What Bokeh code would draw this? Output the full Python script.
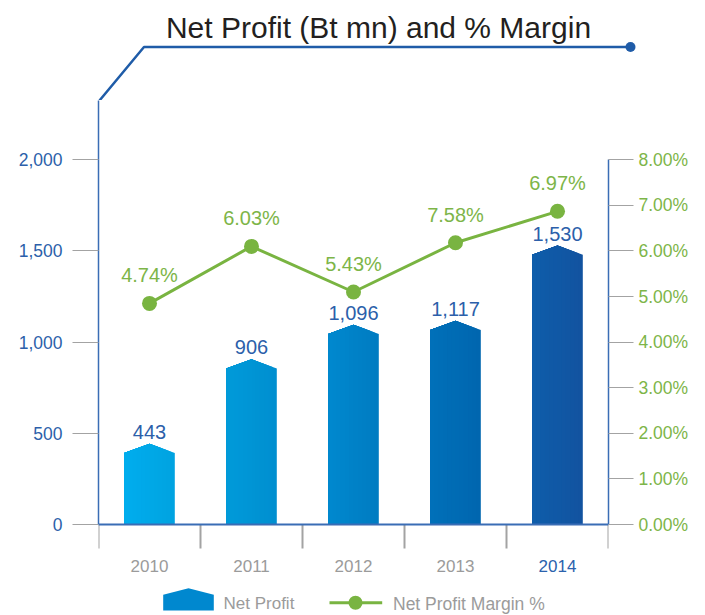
from bokeh.plotting import figure
from bokeh.models import Range1d, LinearAxis, FixedTicker, Span, ColumnDataSource
from bokeh.embed import file_html
from bokeh.resources import INLINE
from bokeh.core.properties import value

# ---------------- data ----------------
title = "Net Profit (Bt mn) and % Margin"
years = ["2010", "2011", "2012", "2013", "2014"]
net_profit = [443, 906, 1096, 1117, 1530]
profit_labels = ["443", "906", "1,096", "1,117", "1,530"]
margin_plotted = [4.85, 6.10, 5.10, 6.18, 6.87]
margin_labels = ["4.74%", "6.03%", "5.43%", "7.58%", "6.97%"]
left_ticks = [0, 500, 1000, 1500, 2000]
left_tick_labels = ["0", "500", "1,000", "1,500", "2,000"]
right_ticks = [0, 1, 2, 3, 4, 5, 6, 7, 8]
right_tick_labels = ["0.00%", "1.00%", "2.00%", "3.00%", "4.00%",
                     "5.00%", "6.00%", "7.00%", "8.00%"]
legend_labels = ["Net Profit", "Net Profit Margin %"]

# ---------------- styles ----------------
FONT = "Liberation Sans"
bar_left_colors = ["#00AEEE", "#009BDA", "#0089CF", "#0071BA", "#0E5EAB"]
bar_right_colors = ["#00A3E1", "#008FD0", "#007CC2", "#0066AF", "#1253A0"]
year_colors = ["#9B9B9B", "#9B9B9B", "#9B9B9B", "#9B9B9B", "#2B62AD"]
BLUE = "#1F5CA8"
AXIS_BLUE = "#3A6DB5"
LABEL_BLUE = "#2C5FAA"
GREEN = "#79B441"
GREEN_TXT = "#7DB548"
GRAY = "#A3A3A3"
GRAY_TXT = "#9B9B9B"

W = 705
TOP_H = 100
MAIN_H = 515
FRAME_L = 98
FRAME_R = 608
BASE_Y = 524                  # baseline, page pixels
BASE_FROM_TOP = BASE_Y - TOP_H
U = 2000 / 364.7              # data units per pixel (left axis)
PCT = 250.0                   # left units per percent
CAT_PX = (FRAME_R - FRAME_L) / len(years)
Y0 = -(MAIN_H - BASE_FROM_TOP) * U
Y1 = BASE_FROM_TOP * U


def hexmix(a, b, t):
    a = [int(a[i:i + 2], 16) for i in (1, 3, 5)]
    b = [int(b[i:i + 2], 16) for i in (1, 3, 5)]
    return "#%02x%02x%02x" % tuple(round(a[k] + (b[k] - a[k]) * t) for k in range(3))


# ---------------- title strip (page pixel coordinates, y up from y=100) ----------------
top = figure(width=W, height=TOP_H, x_range=Range1d(0, W), y_range=Range1d(0, TOP_H),
             output_backend="svg", toolbar_location=None, min_border=0,
             x_axis_type=None, y_axis_type=None, outline_line_color=None)
top.line([99, 143.5, 630], [0, 53.5, 53.5], line_color=BLUE, line_width=2.5)
top.scatter([630], [53.5], size=10, fill_color=BLUE, line_color=None)
top.text([378], [73], text=[title], text_font=value(FONT), text_font_size="30px",
         text_align="center", text_baseline="middle", text_color="#231F20")

# ---------------- main chart ----------------
p = figure(width=W, height=MAIN_H, x_range=Range1d(0, len(years)), y_range=Range1d(Y0, Y1),
           output_backend="svg", toolbar_location=None,
           min_border_left=FRAME_L, min_border_right=W - FRAME_R,
           min_border_top=0, min_border_bottom=0,
           x_axis_type=None, y_axis_type=None, outline_line_color=None)
p.extra_y_ranges = {"pct": Range1d(Y0 / PCT, Y1 / PCT)}

la = LinearAxis(ticker=FixedTicker(ticks=left_ticks),
                major_label_overrides={t: s for t, s in zip(left_ticks, left_tick_labels)},
                bounds=(0, Y1), axis_line_color=AXIS_BLUE, axis_line_width=1.5,
                major_tick_line_color=GRAY, major_tick_line_width=1.2,
                major_tick_out=26, major_tick_in=0, minor_tick_line_color=None,
                major_label_text_color=LABEL_BLUE, major_label_text_font=FONT,
                major_label_text_font_size="17.5px", major_label_standoff=10,
                major_label_text_baseline="bottom")
p.add_layout(la, "left")

ra = LinearAxis(y_range_name="pct", ticker=FixedTicker(ticks=right_ticks),
                major_label_overrides={t: s for t, s in zip(right_ticks, right_tick_labels)},
                bounds=(0, 8), axis_line_color=AXIS_BLUE, axis_line_width=1.5,
                major_tick_line_color=GRAY, major_tick_line_width=1.2,
                major_tick_out=25, major_tick_in=0, minor_tick_line_color=None,
                major_label_text_color=GREEN_TXT, major_label_text_font=FONT,
                major_label_text_font_size="17.5px", major_label_standoff=5,
                major_label_text_baseline="bottom")
p.add_layout(ra, "right")

# category dividers below the baseline
div_x = list(range(len(years) + 1))
p.segment(x0=div_x, y0=[0] * len(div_x), x1=div_x, y1=[-24 * U] * len(div_x),
          line_color=GRAY, line_width=2)

# bars with house-shaped top and stepped horizontal gradient
BAR_W = 50.6 / CAT_PX
ROOF = 9.3 * U
NSTEP = 12
xs, ys, cols = [], [], []
for i, v in enumerate(net_profit):
    c = i + 0.5
    L, R = c - BAR_W / 2, c + BAR_W / 2

    def roof(x):
        return v - ROOF * abs(x - c) / (BAR_W / 2)

    for k in range(NSTEP):
        xr = R - k * BAR_W / NSTEP
        px = [L, L]
        py = [0, roof(L)]
        if xr > c:
            px += [c, xr]
            py += [v, roof(xr)]
        else:
            px += [xr]
            py += [roof(xr)]
        px += [xr]
        py += [0]
        xs.append(px)
        ys.append(py)
        cols.append(hexmix(bar_left_colors[i], bar_right_colors[i], 1 - k / NSTEP))
p.patches("xs", "ys", fill_color="c", line_color=None,
          source=ColumnDataSource(dict(xs=xs, ys=ys, c=cols)))

p.add_layout(Span(location=0, dimension="width", line_color=AXIS_BLUE, line_width=2))

xc = [i + 0.5 for i in range(len(years))]
src = ColumnDataSource(dict(x=xc, np=net_profit, npl=profit_labels, m=margin_plotted,
                            ml=margin_labels, yr=years, yc=year_colors,
                            zero=[0] * len(years)))

p.text("x", "np", text="npl", source=src, text_font=value(FONT), text_font_size="20px",
       text_align="center", text_baseline="middle", text_color=LABEL_BLUE, y_offset=-12)

p.line("x", "m", source=src, y_range_name="pct", line_color=GREEN, line_width=3)
p.scatter("x", "m", source=src, y_range_name="pct", size=15, fill_color=GREEN, line_color=None)
p.text("x", "m", text="ml", source=src, y_range_name="pct", text_font=value(FONT),
       text_font_size="20px", text_align="center", text_baseline="middle",
       text_color=GREEN_TXT, y_offset=-28)

p.text("x", "zero", text="yr", source=src, text_font=value(FONT), text_font_size="17px",
       text_align="center", text_baseline="middle", text_color="yc", y_offset=41.5)


# ---------------- legend (drawn in frame, positions from page pixels) ----------------
def lx(img_x):
    return (img_x - FRAME_L) / CAT_PX


def ly(img_y):
    return (BASE_Y - img_y) * U


iL, iR = lx(162.7), lx(213.3)
ic = (iL + iR) / 2
p.patch([iL, iL, ic, iR, iR], [ly(610), ly(594.3), ly(587.7), ly(594.3), ly(610)],
        fill_color="#0088CF", line_color=None)
p.text([lx(223)], [ly(603.3)], text=[legend_labels[0]], text_font=value(FONT),
       text_font_size="17px", text_align="left", text_baseline="middle", text_color=GRAY_TXT)
p.line([lx(329), lx(381.7)], [ly(602.3), ly(602.3)], line_color=GREEN, line_width=3)
p.scatter([lx(355)], [ly(602.3)], size=14, fill_color=GREEN, line_color=None)
p.text([lx(392.5)], [ly(603.3)], text=[legend_labels[1]], text_font=value(FONT),
       text_font_size="17.5px", text_align="left", text_baseline="middle", text_color=GRAY_TXT)

open("out.html", "w").write(file_html([top, p], INLINE))
